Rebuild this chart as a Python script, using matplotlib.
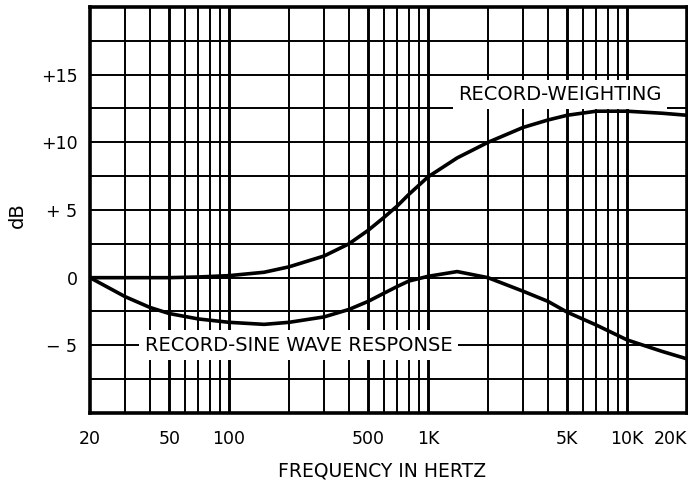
import matplotlib
matplotlib.use("Agg")
import matplotlib.pyplot as plt
from matplotlib.ticker import FixedLocator

# ---- data ----
freq_hz = [20, 30, 40, 50, 70, 100, 150, 200, 300, 400, 500, 600, 700, 800,
           1000, 1400, 2000, 3000, 4000, 5000, 7000, 10000, 15000, 20000]
record_weighting_db = [0.0, 0.0, 0.0, 0.0, 0.05, 0.15, 0.4, 0.8, 1.6, 2.5, 3.5, 4.45, 5.3, 6.15,
                       7.45, 8.85, 10.0, 11.1, 11.65, 12.0, 12.3, 12.3, 12.15, 12.0]
sine_response_db = [0.0, -1.4, -2.2, -2.65, -3.05, -3.3, -3.45, -3.3, -2.9, -2.35, -1.75, -1.15,
                    -0.65, -0.25, 0.1, 0.45, 0.0, -1.0, -1.75, -2.55, -3.5, -4.6, -5.45, -6.0]

x_tick_values = [20, 50, 100, 500, 1000, 5000, 10000, 20000]
x_tick_labels = ["20", "50", "100", "500", "1K", "5K", "10K", "20K"]
x_minor_values = [30, 40, 60, 70, 80, 90, 200, 300, 400, 600, 700, 800, 900,
                  2000, 3000, 4000, 6000, 7000, 8000, 9000]
y_tick_values = [-5, 0, 5, 10, 15]
y_tick_labels = ["\u2212 5", "0", "+ 5", "+10", "+15"]
y_grid_values = [-7.5, -5, -2.5, 0, 2.5, 5, 7.5, 10, 12.5, 15, 17.5]

plt.rcParams["font.family"] = ["DejaVu Sans"]

fig = plt.figure(figsize=(6.88, 4.82), dpi=100)
ax = fig.add_axes([90 / 688, 1 - 413 / 482, (687 - 90) / 688, (413 - 7) / 482])

ax.set_xscale("log")
ax.set_xlim(20, 20000)
ax.set_ylim(-10, 20)

# grid
for v in x_tick_values[1:-1]:
    ax.axvline(v, color="black", lw=2.1, zorder=1)
for v in x_minor_values:
    ax.axvline(v, color="black", lw=1.4, zorder=1)
for v in y_grid_values:
    ax.axhline(v, color="black", lw=1.4, zorder=1)

ax.xaxis.set_major_locator(FixedLocator(x_tick_values))
ax.xaxis.set_minor_locator(FixedLocator([]))
ax.set_xticklabels(x_tick_labels)
ax.yaxis.set_major_locator(FixedLocator(y_tick_values))
ax.yaxis.set_minor_locator(FixedLocator([]))
ax.set_yticklabels(y_tick_labels)
ax.tick_params(axis="both", which="both", length=0, labelsize=12.5)
ax.tick_params(axis="x", pad=12)
ax.tick_params(axis="y", pad=9)
ax.get_xticklabels()[-1].set_horizontalalignment("right")

for s in ax.spines.values():
    s.set_linewidth(2.6)
    s.set_zorder(4)

# curves
ax.plot(freq_hz, record_weighting_db, color="black", lw=2.6, zorder=3,
        solid_capstyle="round", solid_joinstyle="round")
ax.plot(freq_hz, sine_response_db, color="black", lw=2.6, zorder=3,
        solid_capstyle="round", solid_joinstyle="round")

# labels in white boxes
ax.text(4600, 13.55, "RECORD-WEIGHTING", fontsize=14, ha="center", va="center",
        zorder=5, bbox=dict(facecolor="white", edgecolor="none", pad=3.5))
ax.text(224, -5, "RECORD-SINE WAVE RESPONSE", fontsize=14, ha="center", va="center",
        zorder=5, bbox=dict(facecolor="white", edgecolor="none", pad=4))

fig.text(17 / 688, 1 - 215 / 482, "dB", rotation=90, fontsize=14,
         ha="center", va="center")
fig.text(382 / 688, 1 - 471 / 482, "FREQUENCY IN HERTZ", fontsize=13.5,
         ha="center", va="center")

fig.savefig("out.png", dpi=100, facecolor="white")
